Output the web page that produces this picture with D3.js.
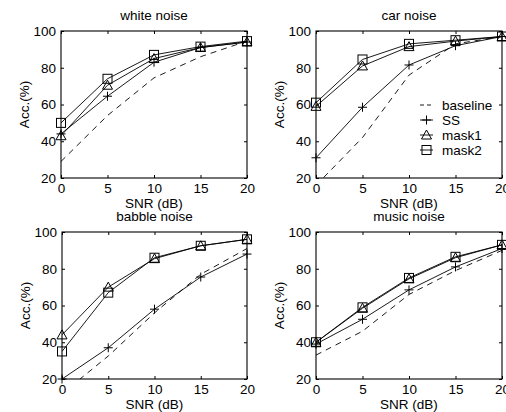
<!DOCTYPE html>
<html><head><meta charset="utf-8">
<script src="https://cdn.jsdelivr.net/npm/d3@7"></script>
<style>body{margin:0;background:#fff}svg{display:block}text{font-family:"Liberation Sans",Arial,sans-serif;fill:#000}</style>
</head><body><svg id="c" width="506" height="412"></svg>
<script>
const snr = [0, 5, 10, 15, 20];
const xTicks = [0, 5, 10, 15, 20];
const yTicks = [20, 40, 60, 80, 100];
const titles = ["white noise", "car noise", "babble noise", "music noise"];
const methods = ["baseline", "SS", "mask1", "mask2"];

const whiteBaseline = [29, 54, 74.5, 86, 94.5];
const whiteSS = [44, 64.5, 83, 91, 94];
const whiteMask1 = [43, 70.5, 85, 91, 94];
const whiteMask2 = [50, 74, 87, 91.5, 94.5];

const carBaseline = [16, 42, 76, 93, 97];
const carSS = [31, 58.5, 81.5, 92, 97];
const carMask1 = [59, 81, 91.5, 94.5, 97];
const carMask2 = [61, 84.5, 93, 95, 97];

const babbleBaseline = [12, 32.5, 56, 77, 91];
const babbleSS = [20, 37, 58, 75.5, 88];
const babbleMask1 = [44, 70, 85.5, 92.5, 96];
const babbleMask2 = [35, 67, 86, 92.5, 96];

const musicBaseline = [33, 46, 66, 79, 90];
const musicSS = [39, 52.5, 68.5, 81, 91];
const musicMask1 = [40, 58.5, 74.5, 86, 93];
const musicMask2 = [40, 59, 75, 86.5, 93];

const panelData = [
  [whiteBaseline, whiteSS, whiteMask1, whiteMask2],
  [carBaseline, carSS, carMask1, carMask2],
  [babbleBaseline, babbleSS, babbleMask1, babbleMask2],
  [musicBaseline, musicSS, musicMask1, musicMask2]
];

const boxes = [
  {x0: 61, x1: 247, y0: 31, y1: 178},
  {x0: 316, x1: 502, y0: 31, y1: 178},
  {x0: 62, x1: 247, y0: 232, y1: 379},
  {x0: 316, x1: 502, y0: 232, y1: 379}
];

const svg = d3.select("#c");
const FS = 13.5;

function marker(g, type, cx, cy) {
  if (type === "SS") {
    g.append("path").attr("d", `M${cx-4.5},${cy}H${cx+4.5}M${cx},${cy-4.5}V${cy+4.5}`)
      .attr("stroke", "#000").attr("stroke-width", 1).attr("fill", "none");
  } else if (type === "mask1") {
    g.append("path").attr("d", `M${cx},${cy-5}L${cx+5},${cy+4}L${cx-5},${cy+4}Z`)
      .attr("stroke", "#000").attr("stroke-width", 1).attr("fill", "none");
  } else if (type === "mask2") {
    g.append("rect").attr("x", cx-4.5).attr("y", cy-4.5).attr("width", 9).attr("height", 9)
      .attr("stroke", "#000").attr("stroke-width", 1).attr("fill", "none");
  }
}

boxes.forEach((b, i) => {
  const x = d3.scaleLinear().domain([0, 20]).range([b.x0, b.x1]);
  const y = d3.scaleLinear().domain([20, 100]).range([b.y1, b.y0]);
  const g = svg.append("g");

  g.append("clipPath").attr("id", "clip" + i).append("rect")
    .attr("x", b.x0).attr("y", b.y0).attr("width", b.x1 - b.x0).attr("height", b.y1 - b.y0);

  const ax = [
    d3.axisBottom(x).tickValues(xTicks).tickSizeInner(-3).tickSizeOuter(0).tickPadding(5),
    d3.axisTop(x).tickValues(xTicks).tickSizeInner(-3).tickSizeOuter(0).tickFormat(""),
    d3.axisLeft(y).tickValues(yTicks).tickSizeInner(-3).tickSizeOuter(0).tickPadding(5),
    d3.axisRight(y).tickValues(yTicks).tickSizeInner(-3).tickSizeOuter(0).tickFormat("")
  ];
  const tr = [`translate(0,${b.y1})`, `translate(0,${b.y0})`, `translate(${b.x0},0)`, `translate(${b.x1},0)`];
  ax.forEach((a, k) => {
    const ag = g.append("g").attr("transform", tr[k]).call(a);
    ag.select(".domain").remove();
    ag.selectAll("line").attr("stroke", "#000");
    ag.selectAll("text").attr("font-size", FS).attr("font-family", '"Liberation Sans",Arial,sans-serif').attr("fill", "#000");
  });
  g.append("rect").attr("x", b.x0).attr("y", b.y0).attr("width", b.x1 - b.x0).attr("height", b.y1 - b.y0)
    .attr("fill", "none").attr("stroke", "#000").attr("stroke-width", 1.1);

  const line = d3.line().x((d, k) => x(snr[k])).y(d => y(d));
  panelData[i].forEach((vals, m) => {
    g.append("path").attr("d", line(vals)).attr("clip-path", `url(#clip${i})`)
      .attr("fill", "none").attr("stroke", "#000").attr("stroke-width", 0.9)
      .attr("stroke-dasharray", m === 0 ? "6,5" : null);
    if (m > 0) vals.forEach((v, k) => marker(g, methods[m], x(snr[k]), y(v)));
  });

  const cx = (b.x0 + b.x1) / 2;
  g.append("text").attr("x", cx).attr("y", b.y0 - 11).attr("text-anchor", "middle").attr("font-size", FS).text(titles[i]);
  g.append("text").attr("x", cx).attr("y", b.y1 + 30).attr("text-anchor", "middle").attr("font-size", FS).text("SNR (dB)");
  g.append("text").attr("transform", `translate(${b.x0 - 32},${(b.y0 + b.y1) / 2}) rotate(-90)`)
    .attr("text-anchor", "middle").attr("font-size", FS).text("Acc.(%)");

  if (i === 1) {
    const lg = g.append("g");
    methods.forEach((m, k) => {
      const ly = 105 + k * 15;
      lg.append("path").attr("d", `M420,${ly}H433`).attr("stroke", "#000").attr("stroke-width", 0.9)
        .attr("stroke-dasharray", m === "baseline" ? "4,3" : null);
      marker(lg, m, 426.5, ly);
      lg.append("text").attr("x", 442).attr("y", ly + 4.5).attr("font-size", FS).text(m);
    });
  }
});
</script></body></html>
